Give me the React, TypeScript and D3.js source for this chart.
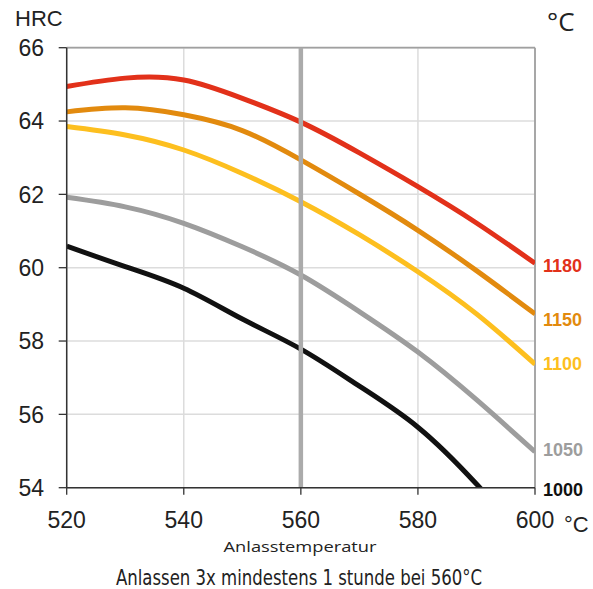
import React from "react";
import * as d3 from "d3";

const temps = [520, 530, 540, 550, 560, 570, 580, 590, 600];
const seriesNames = ["1180", "1150", "1100", "1050", "1000"];
const seriesColors = ["#e2311a", "#e28a0e", "#fdbf1f", "#9d9d9d", "#111111"];
const hrc1180 = [64.94, 65.17, 65.12, 64.62, 63.97, 63.13, 62.21, 61.22, 60.12];
const hrc1150 = [64.25, 64.36, 64.17, 63.74, 62.94, 62.01, 61.02, 59.92, 58.74];
const hrc1100 = [63.85, 63.62, 63.21, 62.57, 61.8, 60.9, 59.89, 58.74, 57.37];
const hrc1050 = [61.92, 61.66, 61.21, 60.57, 59.8, 58.8, 57.7, 56.4, 54.98];
const hrc1000 = [60.59, 60.03, 59.44, 58.6, 57.78, 56.77, 55.65, 54.1, 52.3];
const labelValues = [60.05, 58.6, 57.4, 55.05, 53.95];
const xTicks = [520, 540, 560, 580, 600];
const yTicks = [54, 56, 58, 60, 62, 64, 66];
const markTemp = 560;

const W = 593;
const H = 589;
const left = 66.7;
const right = 535;
const top = 47.7;
const bottom = 487.7;

export default function App() {
  const x = d3.scaleLinear().domain([520, 600]).range([left, right]);
  const y = d3.scaleLinear().domain([54, 66]).range([bottom, top]);
  const line = d3
    .line<number>()
    .x((_, i) => x(temps[i]))
    .y((d) => y(d))
    .curve(d3.curveNatural);
  const all = [hrc1180, hrc1150, hrc1100, hrc1050, hrc1000];
  const sans = "'Liberation Sans', Arial, sans-serif";

  return (
    <svg
      width={W}
      height={H}
      style={{ position: "absolute", left: 0, top: 0, background: "#fff" }}
    >
      <defs>
        <clipPath id="plot">
          <rect x={left} y={top} width={right - left} height={bottom - top} />
        </clipPath>
      </defs>
      {yTicks.map((t) => (
        <line key={"gy" + t} x1={left} x2={right} y1={y(t)} y2={y(t)} stroke="#dcdcdc" strokeWidth={1.5} />
      ))}
      {xTicks.map((t) => (
        <line key={"gx" + t} x1={x(t)} x2={x(t)} y1={top} y2={bottom} stroke="#dcdcdc" strokeWidth={1.5} />
      ))}
      <line x1={left} x2={right} y1={top} y2={top} stroke="#a0a0a0" strokeWidth={1.8} />
      <line x1={right} x2={right} y1={top} y2={bottom} stroke="#a0a0a0" strokeWidth={1.8} />
      <g clipPath="url(#plot)">
        {all.map((s, i) => (
          <path
            key={seriesNames[i]}
            d={line(s) || ""}
            fill="none"
            stroke={seriesColors[i]}
            strokeWidth={5}
            strokeLinecap="butt"
          />
        ))}
      </g>
      <line x1={x(markTemp)} x2={x(markTemp)} y1={top} y2={bottom} stroke="#ababab" strokeWidth={4.5} />
      <line x1={left} x2={left} y1={top} y2={bottom} stroke="#333" strokeWidth={1.5} />
      <line x1={left} x2={right} y1={bottom} y2={bottom} stroke="#333" strokeWidth={1.5} />
      {yTicks.map((t) => (
        <g key={"ty" + t}>
          <line x1={left - 8} x2={left} y1={y(t)} y2={y(t)} stroke="#333" strokeWidth={1.3} />
          <text x={44} y={y(t)} dy="0.36em" textAnchor="end" fontFamily={sans} fontSize={23} fill="#222">
            {t}
          </text>
        </g>
      ))}
      {xTicks.map((t) => (
        <g key={"tx" + t}>
          <line x1={x(t)} x2={x(t)} y1={bottom} y2={bottom + 7} stroke="#333" strokeWidth={1.3} />
          <text x={x(t)} y={528} textAnchor="middle" fontFamily={sans} fontSize={23} fill="#222">
            {t}
          </text>
        </g>
      ))}
      {seriesNames.map((n, i) => (
        <text
          key={"l" + n}
          x={543}
          y={y(labelValues[i])}
          dy="0.36em"
          fontFamily={sans}
          fontWeight="bold"
          fontSize={18}
          fill={seriesColors[i]}
        >
          {n}
        </text>
      ))}
      <text x={15} y={26} fontFamily={sans} fontSize={22} fill="#222">HRC</text>
      <text x={547} y={31} fontFamily="'Open Sans', 'DejaVu Sans', sans-serif" fontSize={26} fill="#222">°C</text>
      <text x={564} y={532} fontFamily={sans} fontSize={22} fill="#222">°C</text>
      <text
        x={300}
        y={552}
        textAnchor="middle"
        fontFamily="'Open Sans', 'DejaVu Sans', sans-serif"
        fontSize={14}
        textLength={153}
        lengthAdjust="spacingAndGlyphs"
        fill="#222"
      >
        Anlasstemperatur
      </text>
      <text
        x={299}
        y={585}
        textAnchor="middle"
        fontFamily="'Liberation Sans Narrow', 'DejaVu Sans Condensed', 'Open Sans', sans-serif"
        fontSize={22}
        textLength={366}
        lengthAdjust="spacingAndGlyphs"
        fill="#222"
      >
        Anlassen 3x mindestens 1 stunde bei 560°C
      </text>
    </svg>
  );
}
